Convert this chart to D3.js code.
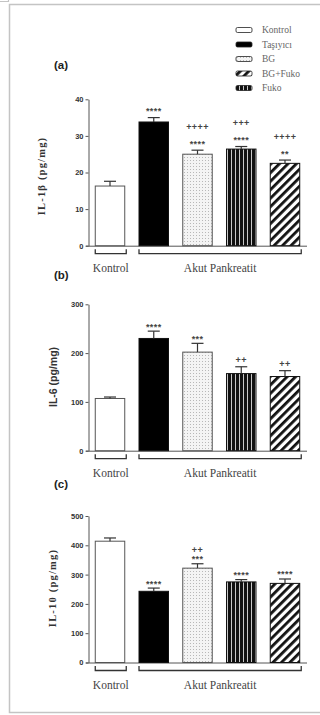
<!DOCTYPE html>
<html>
<head>
<meta charset="utf-8">
<script src="https://cdn.jsdelivr.net/npm/d3@7"></script>
<style>
  html, body { margin: 0; padding: 0; background: #fff; }
  svg { display: block; }
  .tick text { font-family: Arial, "Liberation Sans", sans-serif; font-weight: bold; font-size: 7.5px; fill: #333; }
  .tick line, .domain { stroke: #555; }
</style>
</head>
<body>
<div id="chart"></div>
<script>
// ---------- DATA ----------
const GROUPS = ["Kontrol", "Taşıyıcı", "BG", "Fuko", "BG+Fuko"];
const LEGEND = ["Kontrol", "Taşıyıcı", "BG", "BG+Fuko", "Fuko"];

const IL1B = [16.3, 33.8, 25.0, 26.4, 22.5];
const IL1B_ERR = [1.3, 1.2, 1.1, 0.7, 0.9];
const IL1B_SIG = [[], ["****"], ["****", "++++"], ["****", "+++"], ["**", "++++"]];

const IL6 = [107, 230, 202, 158, 152];
const IL6_ERR = [3, 15, 18, 14, 12];
const IL6_SIG = [[], ["****"], ["***"], ["++"], ["++"]];

const IL10 = [414, 243, 322, 275, 270];
const IL10_ERR = [11, 11, 15, 8, 15];
const IL10_SIG = [[], ["****"], ["***", "++"], ["****"], ["****"]];

const TICKS_A = [0, 10, 20, 30, 40];
const TICKS_B = [0, 100, 200, 300];
const TICKS_C = [0, 100, 200, 300, 400, 500];

// ---------- LAYOUT ----------
const W = 320, H = 715;
const SERIF = "'Liberation Serif', 'Times New Roman', 'DejaVu Serif', serif";
const SANS = "Arial, 'Liberation Sans', sans-serif";

const svg = d3.select("#chart").append("svg")
  .attr("width", W).attr("height", H);

const defs = svg.append("defs");

// dotted light fill (BG)
const pDot = defs.append("pattern").attr("id", "dots")
  .attr("patternUnits", "userSpaceOnUse").attr("width", 3).attr("height", 3);
pDot.append("rect").attr("width", 3).attr("height", 3).attr("fill", "#f4f4f4");
pDot.append("rect").attr("x", 1).attr("y", 1).attr("width", 1).attr("height", 1).attr("fill", "#b8b8b8");

// black with thin white vertical stripes (Fuko)
const pV = defs.append("pattern").attr("id", "vstripe")
  .attr("patternUnits", "userSpaceOnUse").attr("width", 4).attr("height", 4);
pV.append("rect").attr("width", 4).attr("height", 4).attr("fill", "#111");
pV.append("rect").attr("x", 3).attr("width", 0.9).attr("height", 4).attr("fill", "#ddd");

// diagonal hatch (BG+Fuko)
const pD = defs.append("pattern").attr("id", "diag")
  .attr("patternUnits", "userSpaceOnUse").attr("width", 6).attr("height", 6)
  .attr("patternTransform", "rotate(45)");
pD.append("rect").attr("width", 6).attr("height", 6).attr("fill", "#fff");
pD.append("rect").attr("width", 2.8).attr("height", 6).attr("fill", "#111");

const FILLS = {
  "Kontrol": "#fff",
  "Taşıyıcı": "#000",
  "BG": "url(#dots)",
  "Fuko": "url(#vstripe)",
  "BG+Fuko": "url(#diag)"
};

// frame
svg.append("rect")
  .attr("x", 9.5).attr("y", 4.5).attr("width", 330).attr("height", 708)
  .attr("fill", "none").attr("stroke", "#c4c4c4").attr("stroke-width", 1.5);
svg.append("path")
  .attr("d", "M0,1.5H8.5V0")
  .attr("fill", "none").attr("stroke", "#c4c4c4").attr("stroke-width", 1.2);

// legend
const legend = svg.append("g").attr("transform", "translate(236,30)");
LEGEND.forEach((name, i) => {
  const row = legend.append("g").attr("transform", `translate(0,${i * 14.5})`);
  row.append("rect")
    .attr("x", 0).attr("y", -2.5).attr("width", 16).attr("height", 5).attr("rx", 1.5)
    .attr("fill", FILLS[name]).attr("stroke", "#222").attr("stroke-width", 0.8);
  row.append("text")
    .attr("x", 26).attr("y", 3.2)
    .attr("font-family", SERIF)
    .attr("font-size", 9.5).attr("fill", "#666")
    .text(name);
});

const x = d3.scaleBand()
  .domain(GROUPS)
  .range([88, 307])
  .paddingInner(0.326)
  .paddingOuter(0.166);

const panels = [
  { tag: "(a)", tagY: 69, label: "IL-1β (pg/mg)", serif: true, labelX: 41, labelY: 176,
    values: IL1B, err: IL1B_ERR, sig: IL1B_SIG, ticks: TICKS_A, y0: 245.7, y1: 99.3, sigOff: 8, sigGap: 15 },
  { tag: "(b)", tagY: 279, label: "IL-6 (pg/mg)", serif: false, labelX: 53, labelY: 377,
    values: IL6, err: IL6_ERR, sig: IL6_SIG, ticks: TICKS_B, y0: 450.7, y1: 304.3, sigOff: 6, sigGap: 10 },
  { tag: "(c)", tagY: 488, label: "IL-10 (pg/mg)", serif: true, labelX: 52, labelY: 588,
    values: IL10, err: IL10_ERR, sig: IL10_SIG, ticks: TICKS_C, y0: 662.5, y1: 516, sigOff: 6, sigGap: 7 }
];

panels.forEach(p => {
  const g = svg.append("g");
  const y = d3.scaleLinear()
    .domain([0, d3.max(p.ticks)])
    .range([p.y0, p.y1]);

  // panel tag
  g.append("text")
    .attr("x", 54).attr("y", p.tagY)
    .attr("font-family", SANS)
    .attr("font-weight", "bold").attr("font-size", 11.5).attr("fill", "#222")
    .text(p.tag);

  // y axis
  g.append("g")
    .attr("transform", "translate(88.5,0)")
    .call(d3.axisLeft(y).tickValues(p.ticks).tickSize(3).tickSizeOuter(0).tickPadding(2))
    .call(a => a.select(".domain").attr("stroke-width", 1));

  // baseline
  g.append("line")
    .attr("x1", 86).attr("x2", 307)
    .attr("y1", p.y0 + 0.5).attr("y2", p.y0 + 0.5)
    .attr("stroke", "#555").attr("stroke-width", 1);

  // y label
  g.append("text")
    .attr("transform", `translate(${p.labelX + 4},${p.labelY}) rotate(-90)`)
    .attr("text-anchor", "middle")
    .attr("font-family", p.serif ? SERIF : SANS)
    .attr("font-weight", "bold")
    .attr("font-size", p.serif ? 10.5 : 10.5)
    .attr("letter-spacing", p.serif ? 1.2 : 0)
    .attr("fill", "#333")
    .text(p.label);

  const rows = GROUPS.map((gname, i) => ({ name: gname, v: p.values[i], e: p.err[i], s: p.sig[i] }));

  // bars
  g.selectAll(".bar")
    .data(rows)
    .join("rect")
    .attr("class", "bar")
    .attr("x", d => x(d.name))
    .attr("y", d => y(d.v))
    .attr("width", x.bandwidth())
    .attr("height", d => y(0) - y(d.v))
    .attr("fill", d => FILLS[d.name])
    .attr("stroke", d => d.name === "Kontrol" || d.name === "BG" ? "#555" : "#111")
    .attr("stroke-width", 1);

  // error bars (upper only)
  const eb = g.selectAll(".err").data(rows).join("g").attr("class", "err")
    .attr("stroke", "#333").attr("stroke-width", 1.2);
  eb.append("line")
    .attr("x1", d => x(d.name) + x.bandwidth() / 2)
    .attr("x2", d => x(d.name) + x.bandwidth() / 2)
    .attr("y1", d => y(d.v))
    .attr("y2", d => y(d.v + d.e));
  eb.append("line")
    .attr("x1", d => x(d.name) + x.bandwidth() / 2 - 6)
    .attr("x2", d => x(d.name) + x.bandwidth() / 2 + 6)
    .attr("y1", d => y(d.v + d.e))
    .attr("y2", d => y(d.v + d.e));

  // significance marks
  rows.forEach(d => {
    d.s.forEach((mark, k) => {
      const star = mark[0] === "*";
      g.append("text")
        .attr("x", x(d.name) + x.bandwidth() / 2)
        .attr("y", y(d.v + d.e) - p.sigOff - k * p.sigGap + (star ? 4.5 : 2.5))
        .attr("text-anchor", "middle")
        .attr("font-family", SANS)
        .attr("font-weight", "bold")
        .attr("font-size", 9)
        .attr("letter-spacing", 0.4)
        .attr("fill", "#444")
        .text(mark);
    });
  });

  // group brackets
  const by = p.y0 + 8;
  const brackets = [
    { from: GROUPS[0], to: GROUPS[0], text: "Kontrol" },
    { from: GROUPS[1], to: GROUPS[4], text: "Akut Pankreatit" }
  ];
  brackets.forEach(b => {
    const bx1 = x(b.from), bx2 = x(b.to) + x.bandwidth() + 1.5;
    g.append("path")
      .attr("d", `M${bx1},${by - 4.5}V${by}H${bx2}V${by - 4.5}`)
      .attr("fill", "none").attr("stroke", "#333").attr("stroke-width", 1.3);
    g.append("text")
      .attr("x", (bx1 + bx2) / 2).attr("y", by + 18)
      .attr("text-anchor", "middle")
      .attr("font-family", SERIF)
      .attr("font-size", 11.5).attr("fill", "#444")
      .text(b.text);
  });
});
</script>
</body>
</html>
